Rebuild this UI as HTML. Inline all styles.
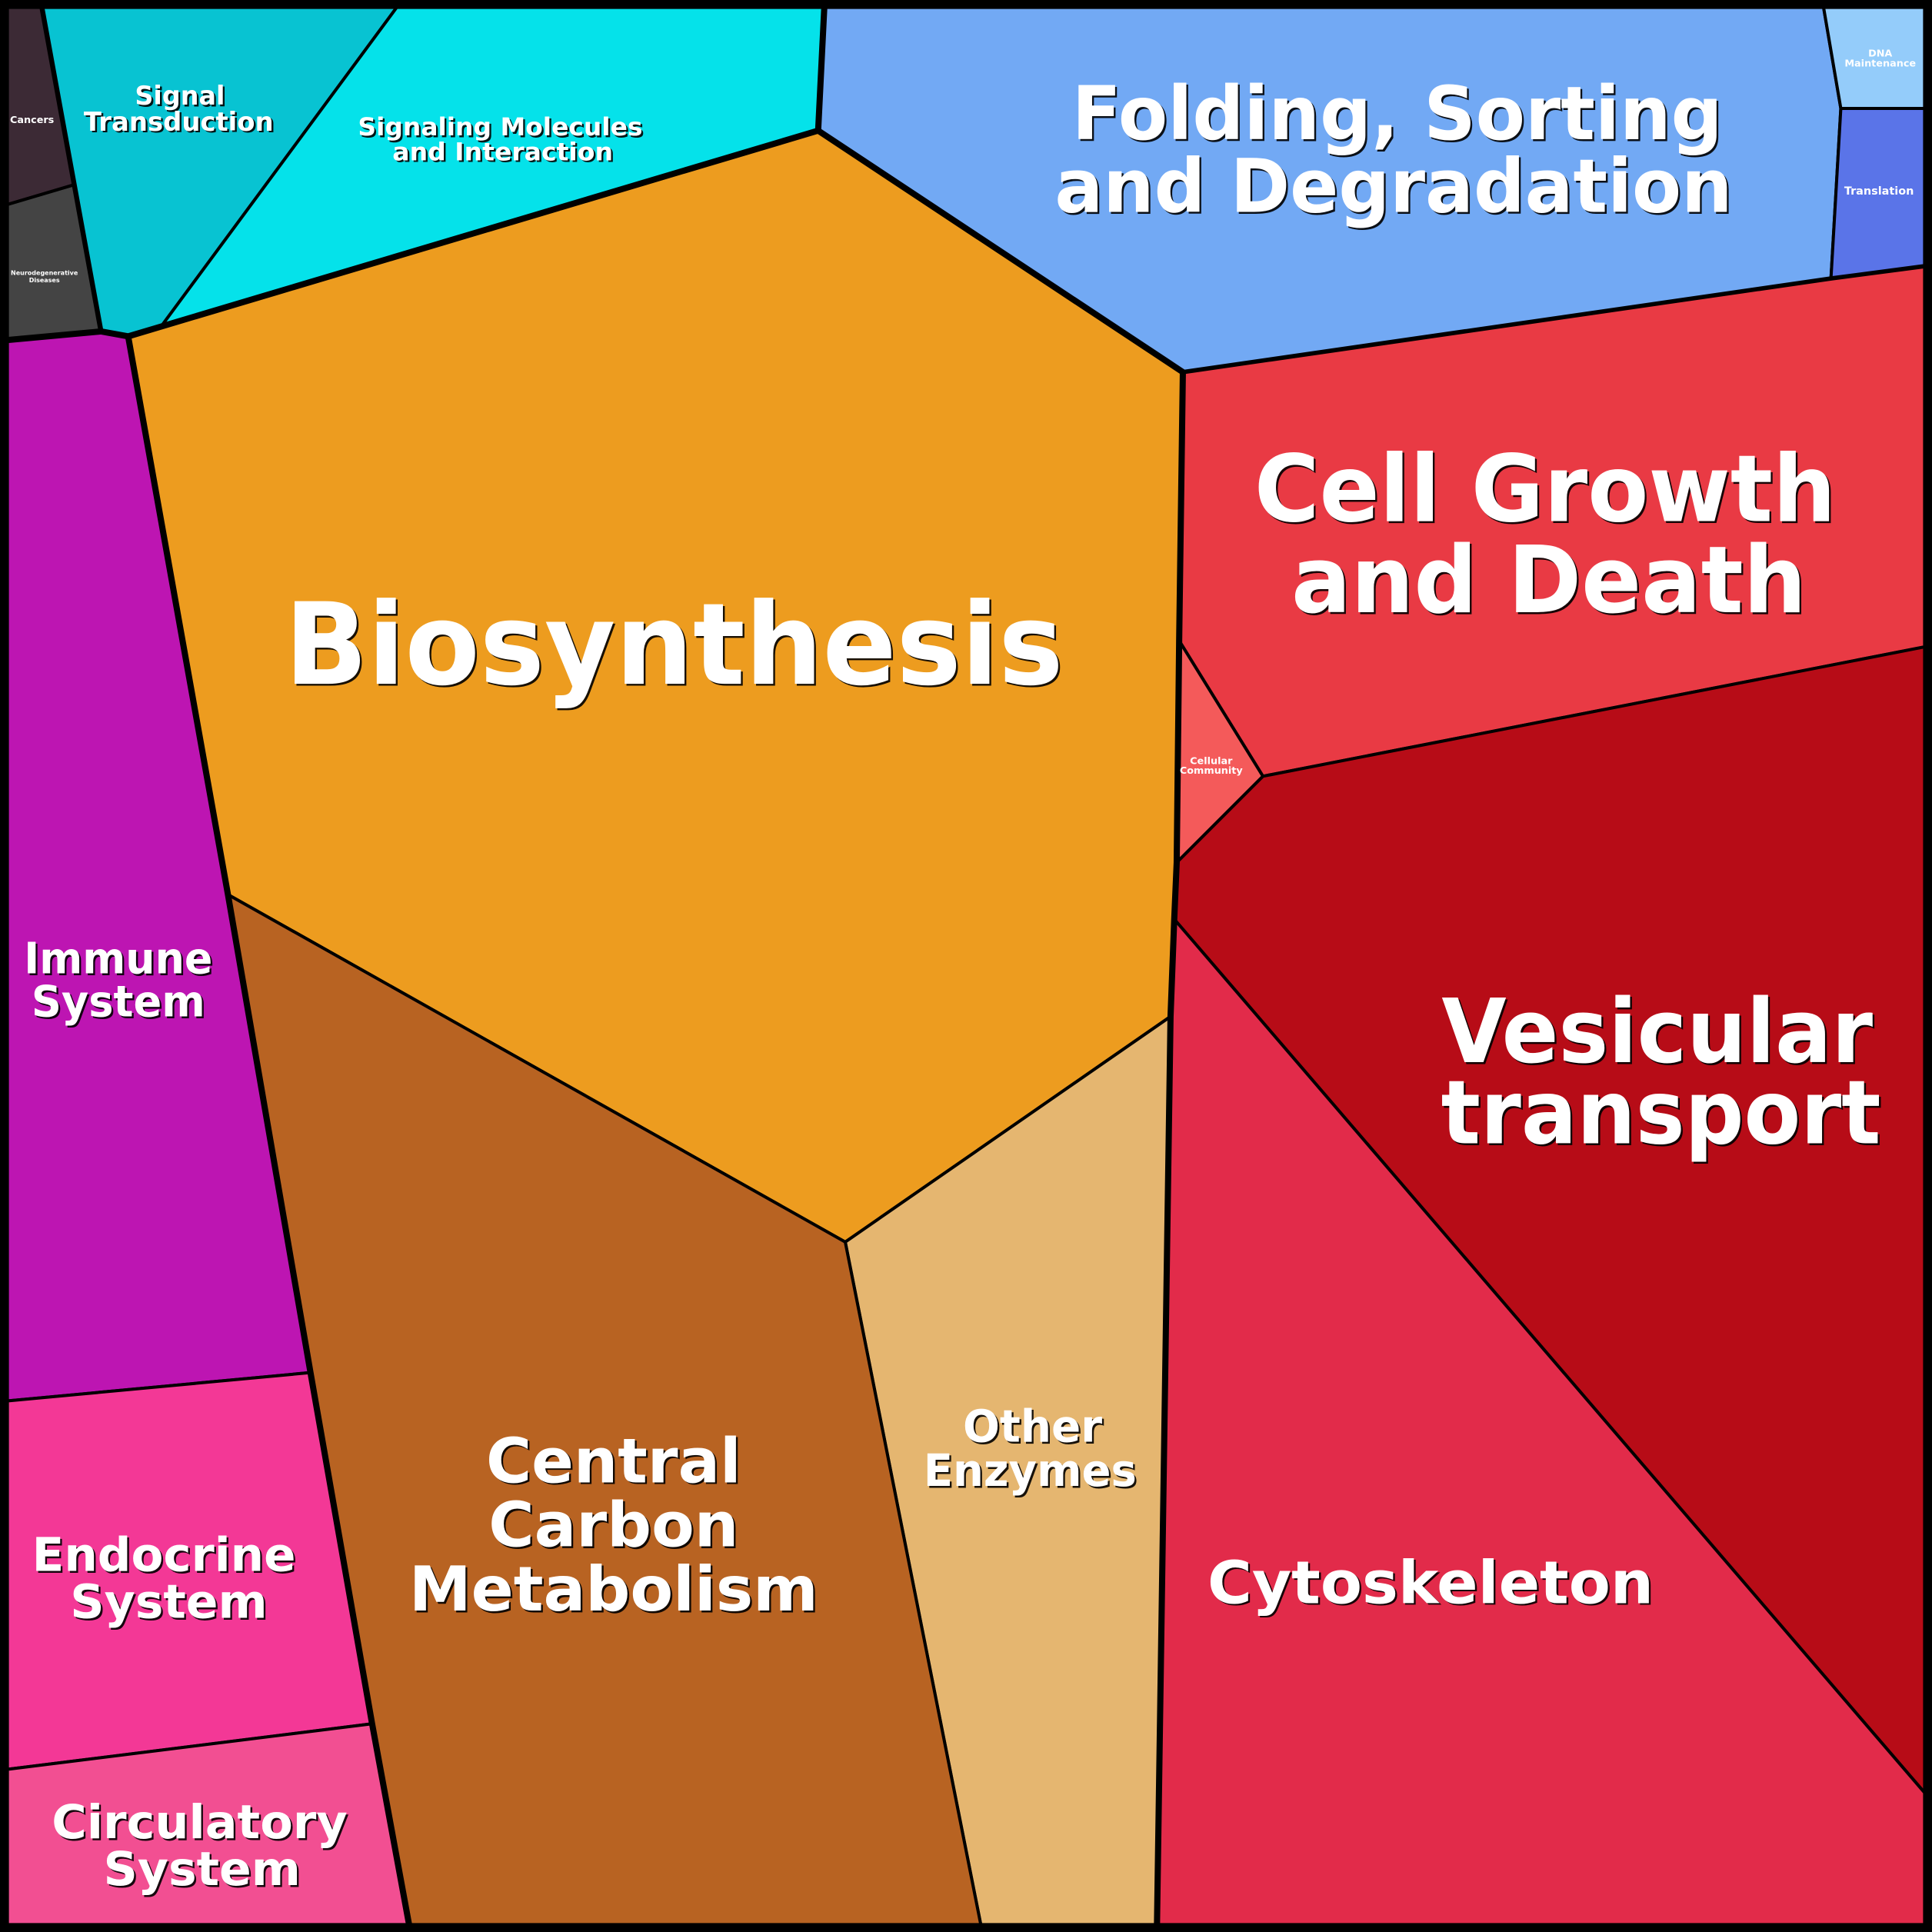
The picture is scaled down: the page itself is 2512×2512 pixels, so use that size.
<!DOCTYPE html>
<html><head><meta charset="utf-8"><style>
html,body{margin:0;padding:0;background:#000;}
svg{display:block;}
text{font-family:"DejaVu Sans","Liberation Sans",sans-serif;font-weight:bold;text-anchor:middle;}
</style></head><body>
<svg width="2512" height="2512" viewBox="0 0 1568 1568" xmlns="http://www.w3.org/2000/svg">
<rect x="0" y="0" width="1568" height="1568" fill="#000"/>
<g stroke="#000" stroke-width="2.5" stroke-linejoin="round">
<polygon fill="#3c2a35" points="6,6 34,6 60,150 6,166"/>
<polygon fill="#444444" points="6,166 60,150 82,269 6,276"/>
<polygon fill="#08c3d2" points="34,6 322,6 130,266 104,273 82,269"/>
<polygon fill="#05e2ea" points="322,6 669,6 664,106 130,266"/>
<polygon fill="#72a9f4" points="669,6 1480,6 1494,88 1486,226 960,302 664,106"/>
<polygon fill="#94ccfa" points="1480,6 1562,6 1562,88 1494,88"/>
<polygon fill="#5a74e8" points="1494,88 1562,88 1562,216 1486,226"/>
<polygon fill="#ed9c1f" points="664,106 960,302 957,520 955,700 953,746 950,825 686,1008 185,726 104,273 130,266"/>
<polygon fill="#e93a44" points="960,302 1486,226 1562,216 1562,525 1025,630 957,520"/>
<polygon fill="#f45a5a" points="957,520 1025,630 955,700"/>
<polygon fill="#b70c17" points="955,700 1025,630 1562,525 1562,1455 953,746"/>
<polygon fill="#e22b4a" points="953,746 1562,1455 1562,1562 939,1562 950,825"/>
<polygon fill="#e5b670" points="686,1008 950,825 939,1562 796,1562"/>
<polygon fill="#b86322" points="185,726 686,1008 796,1562 332,1562 252,1114"/>
<polygon fill="#bd15b2" points="6,276 82,269 104,273 185,726 252,1114 6,1137"/>
<polygon fill="#f33896" points="6,1137 252,1114 302,1399 6,1436"/>
<polygon fill="#f24f92" points="6,1436 302,1399 332,1562 6,1562"/>
</g>
<g stroke="#000" stroke-width="5" fill="none" stroke-linejoin="round" stroke-linecap="round">
<polyline points="6,276 82,269 104,273 664,106 960,302 957,520 955,700 953,746 950,825 939,1562"/>
<polyline points="104,273 185,726 252,1114 302,1399 332,1562"/>
<polyline points="34,6 82,269" stroke-width="4"/>
<polyline points="669,6 664,106"/>
<polyline points="960,302 1486,226 1562,216" stroke-width="3.5"/>
<rect x="3" y="3" width="1562" height="1562" stroke-width="7"/>
</g>
<g id="labels">
<g fill="#000" transform="translate(1.5,1.5)" opacity="0.9">
<text x="547" y="555" font-size="92" textLength="632" lengthAdjust="spacingAndGlyphs">Biosynthesis</text>
<text x="1134" y="113" font-size="60" textLength="528" lengthAdjust="spacingAndGlyphs">Folding, Sorting</text>
<text x="1131" y="172" font-size="60" textLength="550" lengthAdjust="spacingAndGlyphs">and Degradation</text>
<text x="1254" y="423" font-size="75" textLength="472" lengthAdjust="spacingAndGlyphs">Cell Growth</text>
<text x="1257" y="497" font-size="75" textLength="418" lengthAdjust="spacingAndGlyphs">and Death</text>
<text x="1345" y="862" font-size="72" textLength="350" lengthAdjust="spacingAndGlyphs">Vesicular</text>
<text x="1348" y="928" font-size="72" textLength="357" lengthAdjust="spacingAndGlyphs">transport</text>
<text x="1161" y="1301" font-size="48" textLength="362" lengthAdjust="spacingAndGlyphs">Cytoskeleton</text>
<text x="498" y="1203" font-size="50" textLength="207" lengthAdjust="spacingAndGlyphs">Central</text>
<text x="498" y="1255" font-size="50" textLength="203" lengthAdjust="spacingAndGlyphs">Carbon</text>
<text x="498" y="1307" font-size="50" textLength="332" lengthAdjust="spacingAndGlyphs">Metabolism</text>
<text x="838" y="1170" font-size="36" textLength="113" lengthAdjust="spacingAndGlyphs">Other</text>
<text x="836" y="1206" font-size="36" textLength="173" lengthAdjust="spacingAndGlyphs">Enzymes</text>
<text x="96" y="790" font-size="35" textLength="153" lengthAdjust="spacingAndGlyphs">Immune</text>
<text x="96" y="825" font-size="35" textLength="141" lengthAdjust="spacingAndGlyphs">System</text>
<text x="133" y="1275" font-size="38" textLength="214" lengthAdjust="spacingAndGlyphs">Endocrine</text>
<text x="137" y="1313" font-size="38" textLength="160" lengthAdjust="spacingAndGlyphs">System</text>
<text x="162" y="1492" font-size="38" textLength="240" lengthAdjust="spacingAndGlyphs">Circulatory</text>
<text x="164" y="1530" font-size="38" textLength="160" lengthAdjust="spacingAndGlyphs">System</text>
<text x="146" y="85" font-size="21" textLength="73" lengthAdjust="spacingAndGlyphs">Signal</text>
<text x="145" y="106" font-size="21" textLength="154" lengthAdjust="spacingAndGlyphs">Transduction</text>
<text x="406" y="110" font-size="20" textLength="231" lengthAdjust="spacingAndGlyphs">Signaling Molecules</text>
<text x="408" y="130" font-size="20" textLength="179" lengthAdjust="spacingAndGlyphs">and Interaction</text>
</g>
<g fill="#fff">
<text x="547" y="555" font-size="92" textLength="632" lengthAdjust="spacingAndGlyphs">Biosynthesis</text>
<text x="1134" y="113" font-size="60" textLength="528" lengthAdjust="spacingAndGlyphs">Folding, Sorting</text>
<text x="1131" y="172" font-size="60" textLength="550" lengthAdjust="spacingAndGlyphs">and Degradation</text>
<text x="1254" y="423" font-size="75" textLength="472" lengthAdjust="spacingAndGlyphs">Cell Growth</text>
<text x="1257" y="497" font-size="75" textLength="418" lengthAdjust="spacingAndGlyphs">and Death</text>
<text x="1345" y="862" font-size="72" textLength="350" lengthAdjust="spacingAndGlyphs">Vesicular</text>
<text x="1348" y="928" font-size="72" textLength="357" lengthAdjust="spacingAndGlyphs">transport</text>
<text x="1161" y="1301" font-size="48" textLength="362" lengthAdjust="spacingAndGlyphs">Cytoskeleton</text>
<text x="498" y="1203" font-size="50" textLength="207" lengthAdjust="spacingAndGlyphs">Central</text>
<text x="498" y="1255" font-size="50" textLength="203" lengthAdjust="spacingAndGlyphs">Carbon</text>
<text x="498" y="1307" font-size="50" textLength="332" lengthAdjust="spacingAndGlyphs">Metabolism</text>
<text x="838" y="1170" font-size="36" textLength="113" lengthAdjust="spacingAndGlyphs">Other</text>
<text x="836" y="1206" font-size="36" textLength="173" lengthAdjust="spacingAndGlyphs">Enzymes</text>
<text x="96" y="790" font-size="35" textLength="153" lengthAdjust="spacingAndGlyphs">Immune</text>
<text x="96" y="825" font-size="35" textLength="141" lengthAdjust="spacingAndGlyphs">System</text>
<text x="133" y="1275" font-size="38" textLength="214" lengthAdjust="spacingAndGlyphs">Endocrine</text>
<text x="137" y="1313" font-size="38" textLength="160" lengthAdjust="spacingAndGlyphs">System</text>
<text x="162" y="1492" font-size="38" textLength="240" lengthAdjust="spacingAndGlyphs">Circulatory</text>
<text x="164" y="1530" font-size="38" textLength="160" lengthAdjust="spacingAndGlyphs">System</text>
<text x="146" y="85" font-size="21" textLength="73" lengthAdjust="spacingAndGlyphs">Signal</text>
<text x="145" y="106" font-size="21" textLength="154" lengthAdjust="spacingAndGlyphs">Transduction</text>
<text x="406" y="110" font-size="20" textLength="231" lengthAdjust="spacingAndGlyphs">Signaling Molecules</text>
<text x="408" y="130" font-size="20" textLength="179" lengthAdjust="spacingAndGlyphs">and Interaction</text>
<text x="26" y="100" font-size="8" font-weight="normal">Cancers</text>
<text x="36" y="223" font-size="5" font-weight="normal">Neurodegenerative</text>
<text x="36" y="229" font-size="5" font-weight="normal">Diseases</text>
<text x="1526" y="46" font-size="8" font-weight="normal">DNA</text>
<text x="1526" y="54" font-size="8" font-weight="normal">Maintenance</text>
<text x="1525" y="158" font-size="9" font-weight="normal">Translation</text>
<text x="983" y="620" font-size="8" font-weight="normal">Cellular</text>
<text x="983" y="628" font-size="8" font-weight="normal">Community</text>
</g>
</g>
</svg>
</body></html>
